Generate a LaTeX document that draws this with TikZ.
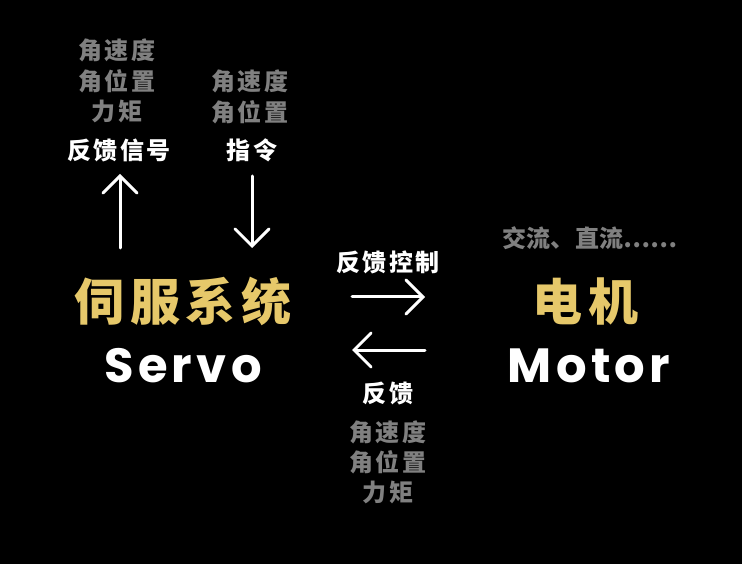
\documentclass[tikz,border=0pt]{standalone}
\usepackage{fontspec}
\usetikzlibrary{arrows.meta}
\newfontfamily\cjk{Noto Sans CJK SC}
\newfontfamily\pop{Poppins}
\definecolor{gold}{HTML}{E6C86A}
\definecolor{greytxt}{HTML}{808080}
\tikzset{
  graylbl/.style={text=greytxt, font=\cjk\bfseries\fontsize{24}{24}\selectfont\addfontfeature{LetterSpace=9}, inner sep=0pt, anchor=center},
  whitelbl/.style={text=white, font=\cjk\bfseries\fontsize{24}{24}\selectfont\addfontfeature{LetterSpace=10}, inner sep=0pt, anchor=center},
  goldlbl/.style={text=gold, font=\cjk\bfseries\fontsize{50}{50}\selectfont\addfontfeature{LetterSpace=12}, inner sep=0pt, anchor=center},
  enlbl/.style={text=white, font=\pop\bfseries\fontsize{48}{48}\selectfont\addfontfeature{LetterSpace=9}, inner sep=0pt, anchor=center},
  flow/.style={draw=white, line width=3pt, line cap=round, -{Straight Barb[length=17pt,width=34pt,line cap=round]}}
}
\begin{document}
\begin{tikzpicture}[x=1pt,y=-1pt]
\fill[black] (0,0) rectangle (742,564);
\useasboundingbox (0,0) rectangle (742,564);
% left top
\node[graylbl] (la) at (117,50) {角速度};
\node[graylbl] (lb) at (117,81) {角位置};
\node[graylbl] (lc) at (117,111) {力矩};
\node[whitelbl] (fb) at (119,150) {反馈信号};
\node[graylbl] (ra) at (250,81) {角速度};
\node[graylbl] (rb) at (250,112) {角位置};
\node[whitelbl] (cmd) at (252,150) {指令};
\coordinate (upS) at (120,248);
\coordinate (upE) at (120,174);
\coordinate (dnS) at (252,176);
\coordinate (dnE) at (252,248);
\draw[flow] (upS) -- (upE);
\draw[flow] (dnS) -- (dnE);
% servo
\node[goldlbl] (servocn) at (183,301) {伺服系统};
\node[enlbl] (servo) at (183,366) {Servo};
% middle
\node[whitelbl] (fbc) at (388,262) {反馈控制};
\coordinate (rS) at (352,297);
\coordinate (rE) at (425,297);
\coordinate (lS) at (425,350);
\coordinate (lE) at (352,350);
\draw[flow] (rS) -- (rE);
\draw[flow] (lS) -- (lE);
\node[whitelbl] (fb2) at (388,393) {反馈};
\node[graylbl] (ma) at (388,432) {角速度};
\node[graylbl] (mb) at (388,462) {角位置};
\node[graylbl] (mc) at (388,492) {力矩};
% motor
\node[graylbl, font=\cjk\bfseries\fontsize{24}{24}\selectfont\addfontfeature{LetterSpace=1}] (ac) at (590,238) {交流、直流……};
\node[goldlbl] (motorcn) at (585,301) {电机};
\node[enlbl] (motor) at (589,366) {Motor};
\end{tikzpicture}
\end{document}
